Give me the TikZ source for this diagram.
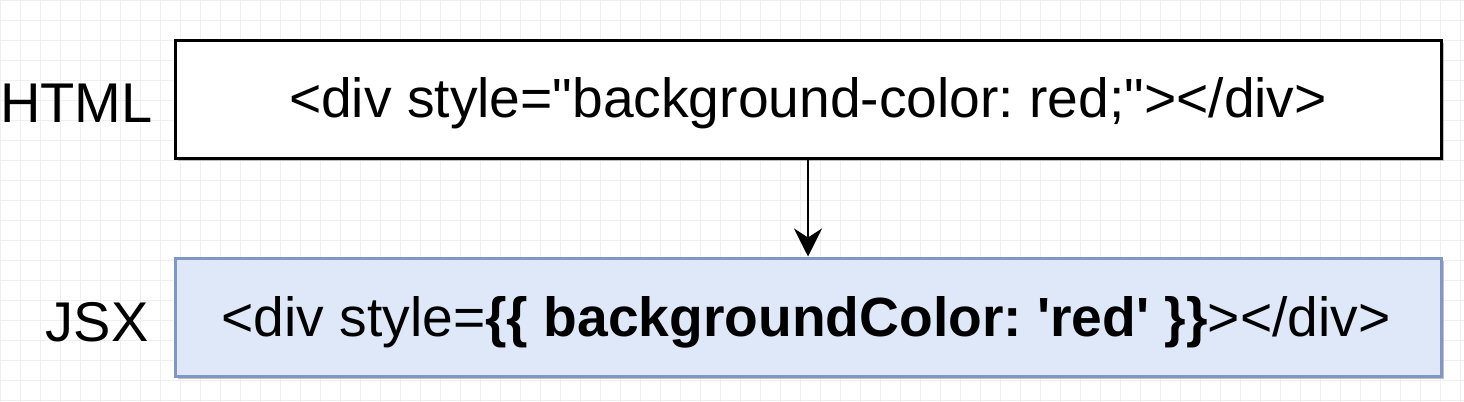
\documentclass[tikz,border=0pt]{standalone}
\usepackage{fontspec}
\setmainfont{Liberation Sans}
\usetikzlibrary{arrows.meta,shadows}
\definecolor{jsxfill}{HTML}{DFE8F8}
\definecolor{jsxdraw}{HTML}{7F97C2}
\definecolor{gridc}{HTML}{EFEFEF}
\frenchspacing
\tikzset{
  boxstyle/.style={draw, line width=1.5pt, minimum width=633pt, minimum height=59pt, inner sep=0pt,
    drop shadow={shadow xshift=1.5pt, shadow yshift=-1.5pt, fill=black!35, opacity=0.7}},
  htmlbox/.style={boxstyle, draw=black, fill=white},
  jsxbox/.style={boxstyle, draw=jsxdraw, fill=jsxfill},
  lbl/.style={font=\fontsize{28}{30}\selectfont, anchor=east, inner sep=0pt},
  boxtext/.style={font=\fontsize{27.6}{30}\selectfont},
  conn/.style={-{Stealth[length=14pt,width=14pt,inset=4.5pt]}, line width=1.4pt}
}
\begin{document}
\begin{tikzpicture}[x=0.5pt,y=-0.5pt]
\useasboundingbox (0,0) rectangle (1464,402);
\fill[white] (0,0) rectangle (1464,402);
\foreach \i in {0,20,...,1460} \draw[gridc, line width=0.4pt] (\i,0) -- (\i,402);
\foreach \j in {0,20,...,400} \draw[gridc, line width=0.4pt] (0,\j) -- (1464,\j);
\node[htmlbox] (html) at (808,99) {};
\node[boxtext] (htmltxt) at (808,103) {<div style=\textquotedbl background-color: red;\textquotedbl></div>};
\node[jsxbox] (jsx) at (808,317) {};
\node[boxtext] (jsxtxt) at (806,322) {<div style=\textbf{\{\{ backgroundColor: \textquotesingle red\textquotesingle\ \}\}}></div>};
\node[lbl] (hl) at (153,103) {HTML};
\node[lbl] (jl) at (149,322) {JSX};
\draw[conn] (html.south) -- (jsx.north);
\end{tikzpicture}
\end{document}
